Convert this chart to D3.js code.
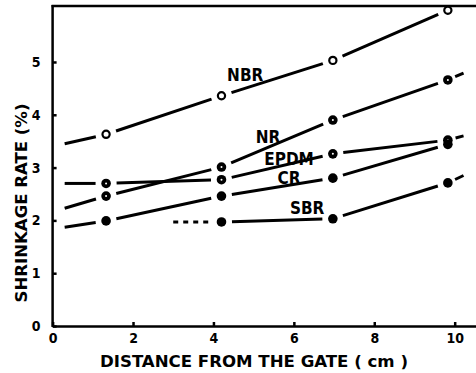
<!DOCTYPE html>
<html><head><meta charset="utf-8">
<script src="https://cdn.jsdelivr.net/npm/d3@7"></script>
<style>body{margin:0;background:#fff}svg{display:block}</style>
</head><body>
<script>
// ---- data ----
const xPoints = [1.33, 4.2, 6.97, 9.83];
const NBR  = [3.63, 4.36, 5.03, 5.98];
const NR   = [2.46, 3.01, 3.90, 4.66];
const EPDM = [2.70, 2.77, 3.26, 3.52];
const CR   = [1.99, 2.46, 2.80, 3.44];
const sbrX = [4.2, 6.97, 9.83];
const SBR  = [1.97, 2.03, 2.71];
const xTicks = [0, 2, 4, 6, 8, 10];
const yTicks = [0, 1, 2, 3, 4, 5];
const xTitle = "DISTANCE FROM THE GATE ( cm )";
const yTitle = "SHRINKAGE  RATE  (%)";

const series = [
  {name:"NBR", xs:xPoints, ys:NBR, start:[0.3,3.45], tail:null, open:true, lab:[4.79,4.75]},
  {name:"NR", xs:xPoints, ys:NR, start:[0.3,2.23], tail:[10.22,4.79], lab:[5.36,3.58]},
  {name:"EPDM", xs:xPoints, ys:EPDM, start:[0.3,2.70], tail:[10.22,3.60], lab:[5.88,3.16]},
  {name:"CR", xs:xPoints, ys:CR, start:[0.3,1.87], tail:null, lab:[5.88,2.80]},
  {name:"SBR", xs:sbrX, ys:SBR, start:null, dashStart:[3.0,1.97], tail:[10.22,2.85], lab:[6.33,2.23]}
];

const W = 476, H = 373;
const svg = d3.select("body").append("svg").attr("width", W).attr("height", H);
const x = d3.scaleLinear().domain([0, 10.53]).range([52.6, 476]);
const y = d3.scaleLinear().domain([0, 6.06]).range([326, 6]);

const font = "'DejaVu Sans Condensed','DejaVu Sans',sans-serif";

// axes
const gx = svg.append("g").attr("transform", `translate(0,${y(0)})`)
  .call(d3.axisBottom(x).tickValues(xTicks).tickFormat(d3.format("d")).tickSize(-4).tickSizeOuter(0).tickPadding(7));
const gy = svg.append("g").attr("transform", `translate(${x(0)},0)`)
  .call(d3.axisLeft(y).tickValues(yTicks).tickFormat(d3.format("d")).tickSize(-4).tickSizeOuter(0).tickPadding(12));
[gx, gy].forEach(g => {
  g.select(".domain").attr("stroke", "#000").attr("stroke-width", 2.5);
  g.selectAll(".tick line").attr("stroke", "#000").attr("stroke-width", 2.5);
  g.selectAll(".tick text").attr("fill", "#000").style("font-family", font)
    .style("font-weight", "bold").style("font-size", "14px");
});
gy.select(".domain").attr("d", `M0,${y(0)+1}V${y(6.06)-1}`);
// top border
svg.append("line").attr("x1", x(0)-1).attr("x2", W).attr("y1", y(6.06)).attr("y2", y(6.06))
  .attr("stroke", "#000").attr("stroke-width", 2.5);

// line segments, trimmed around markers
const GAP = 10.5;
const gl = svg.append("g");
function seg(a, b, trimA, trimB, dash) {
  const ax = x(a[0]), ay = y(a[1]), bx = x(b[0]), by = y(b[1]);
  const len = Math.hypot(bx - ax, by - ay);
  if (len <= trimA + trimB) return;
  const ux = (bx - ax) / len, uy = (by - ay) / len;
  const l = gl.append("line")
    .attr("x1", ax + ux * trimA).attr("y1", ay + uy * trimA)
    .attr("x2", bx - ux * trimB).attr("y2", by - uy * trimB)
    .attr("stroke", "#000").attr("stroke-width", 3);
  if (dash) l.attr("stroke-dasharray", dash);
}
series.forEach(s => {
  const pts = s.xs.map((v, i) => [v, s.ys[i]]);
  if (s.start) seg(s.start, pts[0], 0, GAP);
  if (s.dashStart) seg(s.dashStart, pts[0], 0, GAP, "5,5");
  for (let i = 0; i < pts.length - 1; i++) seg(pts[i], pts[i + 1], GAP, GAP);
  if (s.tail) seg(pts[pts.length - 1], s.tail, 8, 0);
});
// markers
series.forEach(s => {
  s.xs.forEach((v, i) => {
    if (s.open) {
      gl.append("circle").attr("cx", x(v)).attr("cy", y(s.ys[i])).attr("r", 3.6)
        .attr("fill", "#fff").attr("stroke", "#000").attr("stroke-width", 2.2);
    } else {
      gl.append("circle").attr("cx", x(v)).attr("cy", y(s.ys[i])).attr("r", 4.8).attr("fill", "#000");
      if (s.name === "NR" || s.name === "EPDM")
        gl.append("circle").attr("cx", x(v)).attr("cy", y(s.ys[i])).attr("r", 1).attr("fill", "#fff");
    }
  });
});
// labels
series.forEach(s => {
  svg.append("text").attr("x", x(s.lab[0])).attr("y", y(s.lab[1]))
    .attr("text-anchor", "middle").attr("dominant-baseline", "central")
    .style("font-family", font).style("font-weight", "bold").style("font-size", "17px")
    .text(s.name);
});
// titles
svg.append("text").attr("x", 254).attr("y", 367).attr("text-anchor", "middle")
  .attr("textLength", 308).attr("lengthAdjust", "spacingAndGlyphs")
  .style("font-family", font).style("font-weight", "bold").style("font-size", "16px")
  .text(xTitle);
svg.append("text").attr("transform", "translate(27,203) rotate(-90)").attr("text-anchor", "middle")
  .attr("textLength", 199).attr("lengthAdjust", "spacingAndGlyphs")
  .style("font-family", font).style("font-weight", "bold").style("font-size", "16px")
  .text(yTitle);
</script>
</body></html>
